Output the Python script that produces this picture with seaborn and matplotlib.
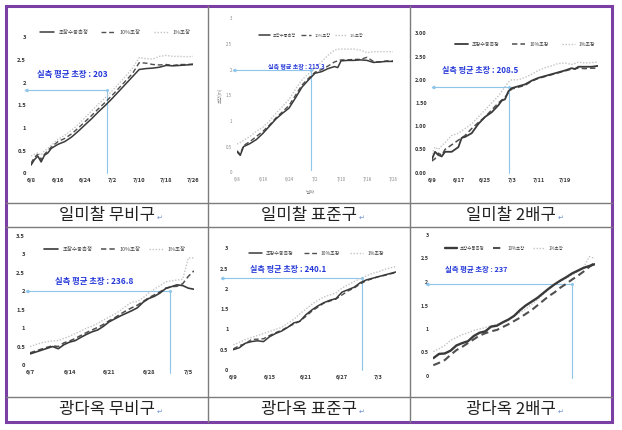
import matplotlib
matplotlib.use("Agg")
import matplotlib.pyplot as plt
from matplotlib.lines import Line2D
from matplotlib.patches import Rectangle
import pandas as pd
import seaborn as sns

# ---------------- data ----------------
series_names = ["초장수동측정", "10%초장", "1%초장"]
panel_titles = ["일미찰 무비구", "일미찰 표준구", "일미찰 2배구",
                "광다옥 무비구", "광다옥 표준구", "광다옥 2배구"]
mean_heights = ["203", "215.3", "208.5", "236.8", "240.1", "237"]

# 일미찰 무비구 (days after 6/8)
p1_days = [0, 1, 2, 3, 4, 5, 6, 8, 10, 12, 14, 16, 18, 20, 22, 24, 26, 28, 30, 32, 34, 36, 38, 40, 42, 44, 46, 48]
p1_manual = [0.18, 0.3, 0.38, 0.25, 0.4, 0.45, 0.55, 0.64, 0.7, 0.8, 0.93, 1.07, 1.21, 1.36, 1.5, 1.65, 1.81, 1.97,
             2.13, 2.29, 2.31, 2.32, 2.34, 2.38, 2.37, 2.38, 2.39, 2.4]
p1_10pct = [0.22, 0.35, 0.42, 0.3, 0.42, 0.5, 0.58, 0.7, 0.77, 0.87, 1.0, 1.14, 1.28, 1.43, 1.57, 1.72, 1.88, 2.04,
            2.2, 2.44, 2.43, 2.4, 2.39, 2.4, 2.38, 2.4, 2.4, 2.41]
p1_1pct = [0.38, 0.42, 0.45, 0.4, 0.5, 0.55, 0.62, 0.75, 0.84, 0.95, 1.08, 1.23, 1.38, 1.53, 1.67, 1.82, 1.98, 2.14,
           2.32, 2.55, 2.53, 2.52, 2.58, 2.6, 2.58, 2.58, 2.57, 2.58]
p1_xticks = [0, 8, 16, 24, 32, 40, 48]
p1_xlabels = ["6/8", "6/16", "6/24", "7/2", "7/10", "7/18", "7/26"]
p1_ref = [22.5, 1.84]

# 일미찰 표준구 (days after 6/8)
p2_days = [0, 1, 2, 4, 6, 8, 10, 12, 14, 16, 18, 20, 22, 24, 26, 28, 30, 31, 32, 34, 36, 38, 40, 42, 44, 46, 48]
p2_manual = [0.4, 0.33, 0.5, 0.56, 0.64, 0.76, 0.9, 1.04, 1.15, 1.25, 1.45, 1.66, 1.8, 1.93, 1.96, 2.02, 2.06, 2.04,
             2.17, 2.18, 2.18, 2.19, 2.18, 2.14, 2.15, 2.16, 2.16]
p2_10pct = [0.42, 0.35, 0.52, 0.6, 0.7, 0.8, 0.92, 1.06, 1.18, 1.3, 1.5, 1.7, 1.83, 1.95, 2.0, 2.07, 2.15, 2.17,
            2.19, 2.19, 2.2, 2.2, 2.24, 2.16, 2.15, 2.17, 2.17]
p2_1pct = [0.55, 0.58, 0.62, 0.7, 0.8, 0.88, 1.0, 1.15, 1.28, 1.42, 1.62, 1.8, 1.92, 2.02, 2.15, 2.28, 2.38, 2.4,
           2.4, 2.4, 2.4, 2.38, 2.33, 2.35, 2.35, 2.35, 2.35]
p2_xticks = [0, 8, 16, 24, 32, 40, 48]
p2_xlabels = ["6/8", "6/16", "6/24", "7/2", "7/10", "7/18", "7/26"]
p2_ref = [22.8, 2.0]

# 일미찰 2배구 (days after 6/9)
p3_days = [0, 1, 2, 3, 4, 6, 8, 9, 10, 12, 14, 16, 18, 20, 21, 22, 23, 24, 26, 28, 30, 32, 34, 36, 38, 40, 42, 43,
           44, 46, 48, 50]
p3_manual = [0.28, 0.45, 0.38, 0.35, 0.45, 0.45, 0.55, 0.75, 0.77, 0.85, 1.05, 1.2, 1.3, 1.45, 1.55, 1.58, 1.75,
             1.82, 1.86, 1.9, 1.98, 2.04, 2.08, 2.12, 2.16, 2.2, 2.25, 2.23, 2.28, 2.28, 2.28, 2.3]
p3_10pct = [0.25, 0.3, 0.42, 0.38, 0.5, 0.6, 0.7, 0.75, 0.8, 0.95, 1.08, 1.2, 1.35, 1.5, 1.56, 1.62, 1.72, 1.8,
            1.84, 1.88, 1.97, 2.03, 2.07, 2.11, 2.15, 2.19, 2.23, 2.24, 2.25, 2.24, 2.25, 2.25]
p3_1pct = [0.4, 0.55, 0.5, 0.58, 0.65, 0.8, 0.85, 0.9, 0.95, 1.05, 1.2, 1.35, 1.5, 1.65, 1.75, 1.85, 1.95, 2.0,
           2.0, 2.05, 2.12, 2.2, 2.26, 2.3, 2.35, 2.36, 2.33, 2.35, 2.38, 2.36, 2.37, 2.38]
p3_xticks = [0, 8, 16, 24, 32, 40]
p3_xlabels = ["6/9", "6/17", "6/25", "7/3", "7/11", "7/19"]
p3_ref = [23.3, 1.84]

# 광다옥 무비구 (days after 6/7)
p4_days = list(range(30))
p4_manual = [0.3, 0.35, 0.4, 0.45, 0.5, 0.44, 0.55, 0.62, 0.66, 0.75, 0.83, 0.9, 0.95, 1.05, 1.17, 1.25, 1.33,
             1.4, 1.47, 1.55, 1.7, 1.8, 1.86, 1.95, 2.07, 2.12, 2.17, 2.15, 2.08, 2.05]
p4_10pct = [0.33, 0.38, 0.43, 0.48, 0.52, 0.5, 0.6, 0.65, 0.72, 0.8, 0.88, 0.95, 1.02, 1.1, 1.2, 1.28, 1.38,
            1.47, 1.55, 1.62, 1.72, 1.82, 1.9, 1.98, 2.08, 2.12, 2.13, 2.2, 2.4, 2.55]
p4_1pct = [0.5, 0.55, 0.6, 0.63, 0.65, 0.66, 0.72, 0.78, 0.85, 0.92, 1.0, 1.05, 1.13, 1.22, 1.3, 1.38, 1.48,
           1.6, 1.7, 1.72, 1.82, 1.95, 2.05, 2.15, 2.25, 2.28, 2.3, 2.32, 2.9, 2.9]
p4_xticks = [0, 7, 14, 21, 28]
p4_xlabels = ["6/7", "6/14", "6/21", "6/28", "7/5"]
p4_ref = [24.7, 2.0]

# 광다옥 표준구 (days after 6/9)
p5_days = list(range(28))
p5_manual = [0.5, 0.55, 0.66, 0.7, 0.72, 0.7, 0.82, 0.9, 0.96, 1.05, 1.16, 1.2, 1.36, 1.48, 1.58, 1.66, 1.72,
             1.76, 1.92, 1.98, 2.04, 2.15, 2.22, 2.26, 2.3, 2.34, 2.38, 2.42]
p5_10pct = [0.52, 0.6, 0.65, 0.75, 0.76, 0.77, 0.85, 0.92, 0.98, 1.06, 1.13, 1.2, 1.32, 1.45, 1.55, 1.65, 1.7,
            1.75, 1.85, 1.95, 2.02, 2.12, 2.2, 2.25, 2.3, 2.33, 2.37, 2.4]
p5_1pct = [0.62, 0.68, 0.75, 0.8, 0.85, 0.9, 0.95, 1.0, 1.05, 1.15, 1.25, 1.38, 1.5, 1.62, 1.72, 1.8, 1.85,
           1.9, 2.02, 2.1, 2.18, 2.25, 2.32, 2.38, 2.42, 2.48, 2.52, 2.55]
p5_xticks = [0, 6, 12, 18, 24]
p5_xlabels = ["6/9", "6/15", "6/21", "6/27", "7/3"]
p5_ref = [21.3, 2.28]

# 광다옥 2배구 (day index, no date labels)
p6_days = list(range(29))
p6_manual = [0.38, 0.47, 0.48, 0.54, 0.65, 0.7, 0.74, 0.85, 0.92, 0.95, 1.05, 1.07, 1.14, 1.2, 1.28, 1.4, 1.5,
             1.58, 1.66, 1.76, 1.86, 1.95, 2.03, 2.1, 2.18, 2.24, 2.3, 2.34, 2.38]
p6_10pct = [0.23, 0.28, 0.34, 0.45, 0.55, 0.62, 0.7, 0.78, 0.86, 0.91, 0.95, 0.98, 1.04, 1.1, 1.17, 1.24, 1.32,
            1.4, 1.5, 1.6, 1.7, 1.78, 1.88, 1.96, 2.05, 2.13, 2.22, 2.32, 2.42]
p6_1pct = [0.52, 0.58, 0.65, 0.76, 0.82, 0.88, 0.92, 0.97, 1.0, 1.03, 1.07, 1.1, 1.14, 1.2, 1.27, 1.35, 1.42,
           1.52, 1.62, 1.74, 1.85, 1.95, 2.02, 2.08, 2.15, 2.22, 2.3, 2.54, 2.5]
p6_xticks = []
p6_xlabels = []
p6_ref = [24.1, 1.96]

ylabels_3 = ["0", "0.5", "1", "1.5", "2", "2.5", "3"]
ylabels_3dec = ["0.00", "0.50", "1.00", "1.50", "2.00", "2.50", "3.00"]
ylabels_35 = ["0", "0.5", "1", "1.5", "2", "2.5", "3", "3.5"]

# ---------------- layout (pixels) ----------------
W, H = 622, 430
sns.set_style("white")
plt.rcParams["font.family"] = ["Noto Sans CJK KR", "DejaVu Sans"]

fig = plt.figure(figsize=(W / 100, H / 100), dpi=100)

panels = [
    dict(days=p1_days, s=[p1_manual, p1_10pct, p1_1pct], xt=p1_xticks, xl=p1_xlabels, ref=p1_ref,
         xpx=(31, 193.3), xlim=(0, 48), ypx=(173.3, 37.3), ylim=(0, 3), yl=ylabels_3,
         leg=(115, 32.3, 3.9, 2.4), note=(72.5, 74, 6.0), ref_left=26, ref_bottom=0.0,
         tick=4.2, lw=(1.1, 1.0, 1.0)),
    dict(days=p2_days, s=[p2_manual, p2_10pct, p2_1pct], xt=p2_xticks, xl=p2_xlabels, ref=p2_ref,
         xpx=(237, 393), xlim=(0, 48), ypx=(172.3, 18.3), ylim=(0, 3), yl=ylabels_3,
         leg=(311, 35.7, 3.0, 1.0), note=(296, 66.7, 4.3), ref_left=234, ref_bottom=0.04,
         tick=3.2, lw=(1.1, 1.0, 1.0)),
    dict(days=p3_days, s=[p3_manual, p3_10pct, p3_1pct], xt=p3_xticks, xl=p3_xlabels, ref=p3_ref,
         xpx=(431.7, 598.3), xlim=(0, 50), ypx=(172.7, 33.3), ylim=(0, 3), yl=ylabels_3dec,
         leg=(525, 44.3, 3.6, 2.6), note=(480, 70, 5.8), ref_left=432.7, ref_bottom=0.0,
         tick=4.0, lw=(1.3, 1.1, 1.0)),
    dict(days=p4_days, s=[p4_manual, p4_10pct, p4_1pct], xt=p4_xticks, xl=p4_xlabels, ref=p4_ref,
         xpx=(30, 194), xlim=(0, 29), ypx=(365, 235.7), ylim=(0, 3.5), yl=ylabels_35,
         leg=(115, 249.3, 3.9, 1.6), note=(94, 281.7, 6.0), ref_left=26.7, ref_bottom=-0.22,
         tick=4.2, lw=(1.2, 1.1, 1.0)),
    dict(days=p5_days, s=[p5_manual, p5_10pct, p5_1pct], xt=p5_xticks, xl=p5_xlabels, ref=p5_ref,
         xpx=(233.3, 396.4), xlim=(0, 27), ypx=(370, 248.3), ylim=(0, 3), yl=ylabels_3,
         leg=(316.5, 253.3, 3.6, 2.0), note=(288, 269.3, 5.8), ref_left=221.7, ref_bottom=0.0,
         tick=4.0, lw=(1.1, 1.0, 1.0)),
    dict(days=p6_days, s=[p6_manual, p6_10pct, p6_1pct], xt=p6_xticks, xl=p6_xlabels, ref=p6_ref,
         xpx=(433.3, 595), xlim=(0, 28), ypx=(376, 235), ylim=(0, 3), yl=ylabels_3,
         leg=(504, 248.3, 3.2, 1.8), note=(476, 269.3, 5.3), ref_left=426.7, ref_bottom=-0.04,
         tick=3.8, lw=(1.7, 1.5, 1.0)),
]

line_colors = ["#3a3a3a", "#505050", "#c4c4c4"]
line_styles = ["-", (0, (3.5, 2.0)), (0, (1.0, 1.2))]
ref_color = "#8ec5ea"
note_color = "#2438d8"

for i, p in enumerate(panels):
    (x0, x1), (y0, y1) = p["xpx"], p["ypx"]
    ax = fig.add_axes([x0 / W, 1 - y0 / H, (x1 - x0) / W, (y0 - y1) / H])
    ax.set_facecolor("none")
    for name, vals, col, ls, lw in zip(series_names, p["s"], line_colors, line_styles, p["lw"]):
        df = pd.DataFrame({"day": p["days"], "height": vals})
        sns.lineplot(data=df, x="day", y="height", ax=ax, color=col, linestyle=ls,
                     linewidth=lw, label=name, zorder=3 if ls == "-" else 2)
    ax.set_xlim(*p["xlim"])
    ax.set_ylim(*p["ylim"])
    ax.set_xlabel("")
    ax.set_ylabel("")
    sns.despine(ax=ax, left=True, bottom=True)
    ax.set_yticks([k * 0.5 for k in range(len(p["yl"]))])
    ax.set_yticklabels(p["yl"])
    ax.set_xticks(p["xt"])
    ax.set_xticklabels(p["xl"])
    light = i == 1
    ax.tick_params(length=0, labelsize=p["tick"], pad=3.5,
                   labelcolor="#888888" if light else "#333333")
    for t in ax.get_xticklabels() + ax.get_yticklabels():
        t.set_fontweight("normal" if light else "bold")

    # reference lines from the measured mean height
    rd, rh = p["ref"]
    left_day = p["xlim"][0] + (p["ref_left"] - x0) / (x1 - x0) * (p["xlim"][1] - p["xlim"][0])
    ax.plot([left_day, rd], [rh, rh], color=ref_color, lw=0.8, clip_on=False, zorder=1)
    ax.plot([rd, rd], [rh, p["ref_bottom"]], color=ref_color, lw=0.8, clip_on=False, zorder=1)
    ax.plot([left_day], [rh], marker="<", ms=1.8, color=ref_color, clip_on=False)
    ax.plot([rd], [rh], marker="o", ms=1.2, color=ref_color, clip_on=False)

    lx, ly, lfs, csp = p["leg"]
    ax.legend(loc="center", bbox_to_anchor=(lx / W, 1 - ly / H), bbox_transform=fig.transFigure,
              ncol=3, frameon=False, fontsize=lfs, handlelength=2.6, handletextpad=0.8,
              columnspacing=csp, borderpad=0, labelcolor="#444444")

    nx, ny, nfs = p["note"]
    fig.text(nx / W, 1 - ny / H, f"실측 평균 초장 : {mean_heights[i]}", ha="center", va="center",
             fontsize=nfs, fontweight="bold", color=note_color)

# axis titles of the 일미찰 표준구 chart
fig.text(310 / W, 1 - 192.7 / H, "날짜", ha="center", va="center", fontsize=3.5, color="#888888")
fig.text(220 / W, 1 - 95 / H, "초장(m)", ha="center", va="center", fontsize=3.2, color="#888888",
         rotation=90)

# ---------------- table frame ----------------
grid = "#7c7c7c"
for xv in (208, 410):
    fig.add_artist(Line2D([xv / W, xv / W], [1 - 6 / H, 1 - 422 / H], color=grid, lw=1.0))
for yv in (203, 227, 397):
    fig.add_artist(Line2D([6 / W, 612 / W], [1 - yv / H, 1 - yv / H], color=grid, lw=1.0))
fig.add_artist(Rectangle((6 / W, 1 - 422 / H), 606 / W, 416 / H, transform=fig.transFigure,
                         fill=False, edgecolor="#7a3fa5", lw=2.2))

# captions
col_centers = [107, 309, 511]
row_centers = [215.5, 409.5]
for i, title in enumerate(panel_titles):
    cx, cy = col_centers[i % 3], row_centers[i // 3]
    t = fig.text(cx / W, 1 - cy / H, title, ha="center", va="center", fontsize=12, color="#222222")
    fig.text(0, 0, "")
    plt.annotate("↵", xy=(1.0, 0.12), xycoords=t, xytext=(1.5, 0), textcoords="offset points",
                 fontsize=5, color="#6f8fd6", ha="left", va="bottom", annotation_clip=False)

fig.savefig("out.png", dpi=100)
